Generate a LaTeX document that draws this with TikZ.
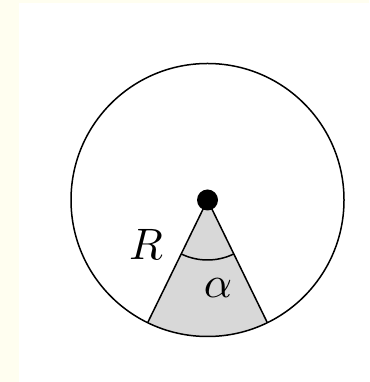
\documentclass[tikz,border=0pt]{standalone}
\usetikzlibrary{calc}
\definecolor{strip}{RGB}{255,254,240}
\definecolor{sectorfill}{RGB}{216,216,216}
\tikzset{
  edge/.style={line width=1.5pt, black},
  lbl/.style={inner sep=0pt, scale=4.4}
}
\begin{document}
\begin{tikzpicture}[x=1pt,y=1pt]
  \useasboundingbox (0,0) rectangle (369,382);
  \fill[white] (0,0) rectangle (369,382);
  \fill[strip] (0,0) rectangle (19,382);
  \fill[strip] (0,379) rectangle (369,382);
  \coordinate (O) at (207.5,182);
  \def\rad{136.5}
  % sector
  \fill[sectorfill] (O) -- ($(O)+(244:\rad)$) arc[start angle=244, end angle=296, radius=\rad] -- cycle;
  \coordinate (A) at ($(O)+(244:\rad)$);
  \coordinate (B) at ($(O)+(296:\rad)$);
  \draw[edge] (O) circle[radius=\rad];
  \draw[edge] (A) -- (O) -- (B);
  \draw[edge] ($(O)+(244:60)$) arc[start angle=244, end angle=296, radius=60];
  \node[circle, fill=black, minimum size=21pt, inner sep=0pt] (dot) at (O) {};
  \node[lbl] (R) at (146,138) {$R$};
  \node[lbl] (alpha) at (218,94) {$\alpha$};
\end{tikzpicture}
\end{document}
